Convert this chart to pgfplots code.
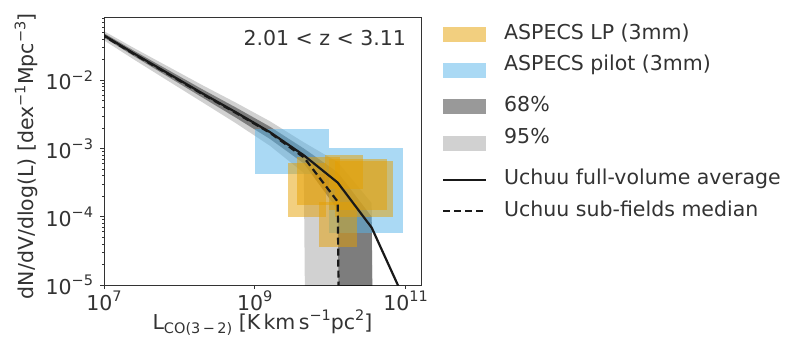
\documentclass[border=0pt]{standalone}
\usepackage{fontspec}
\setmainfont{DejaVu Sans}
\usepackage{pgfplots}
\pgfplotsset{compat=1.18}
\definecolor{orangec}{HTML}{E69F00}
\definecolor{bluec}{HTML}{56B4E9}
\definecolor{txt}{gray}{0.2}
\newcommand{\sups}[1]{\raisebox{0.42em}{\fontsize{14.5pt}{15pt}\selectfont #1}}
\newcommand{\subs}[1]{\raisebox{-0.22em}{\fontsize{14.5pt}{15pt}\selectfont #1}}
\begin{document}
\fontsize{20.5pt}{24pt}\selectfont
\begin{tikzpicture}
\begin{axis}[
  name=ax, scale only axis, width=317pt, height=268pt,
  xmode=log, ymode=log,
  xmin=1e7, xmax=1.6e11, ymin=1e-5, ymax=0.0843,
  axis line style={txt, line width=1pt},
  tick pos=left, tick align=outside,
  major tick length=4pt, minor tick length=2pt,
  every tick/.style={txt, line width=0.8pt},
  xtick={1e7,1e9,1e11}, xticklabels={10\sups{7},10\sups{9},10\sups{11}},
  xminorticks=false,
  ytick={1e-5,1e-4,1e-3,1e-2}, yticklabels={10\sups{−5},10\sups{−4},10\sups{−3},10\sups{−2}},
  minor ytick={2e-5,3e-5,4e-5,5e-5,6e-5,7e-5,8e-5,9e-5,2e-4,3e-4,4e-4,5e-4,6e-4,7e-4,8e-4,9e-4,2e-3,3e-3,4e-3,5e-3,6e-3,7e-3,8e-3,9e-3,2e-2,3e-2,4e-2,5e-2,6e-2,7e-2,8e-2},
  tick label style={txt, font=\fontsize{20.5pt}{24pt}\selectfont},
  xticklabel style={yshift=5pt},
  every axis x label/.style={at={(axis description cs:0.5,0)}, anchor=base, yshift=-44pt, txt},
  every axis y label/.style={at={(axis description cs:-0.221,0.48)}, anchor=base, rotate=90, txt},
  xlabel={L\subs{CO(3\,−\,2)} [K\,km\,s\sups{−1}pc\sups{2}]},
  ylabel={dN/dV/dlog(L) [dex\sups{−1}Mpc\sups{−3}]},
  legend style={at={(1,1)}, anchor=north west, xshift=21pt, yshift=-7pt, draw=none, fill=none, inner sep=0pt, outer sep=0pt, row sep=11.2pt, column sep=17pt, nodes={inner sep=0pt, text height=15pt, text depth=5pt, txt}, font=\fontsize{20.5pt}{24pt}\selectfont},
  legend cell align=left,
]
% 95% band
\addplot[fill=black, fill opacity=0.18, draw=none, forget plot] coordinates {
 (8.91e6,0.0562) (2.51e7,0.0295) (7.08e7,0.01585) (1.995e8,0.00851) (5.62e8,0.00468) (1.585e9,0.00251) (4.47e9,0.00123) (1.259e10,6.31e-4) (3.55e10,1.585e-4) (1e11,1e-60)
 (3.55e10,1e-60) (1.259e10,1e-60) (4.47e9,4.37e-4) (1.585e9,0.001096) (5.62e8,0.00234) (1.995e8,0.00479) (7.08e7,0.00977) (2.51e7,0.0200) (8.91e6,0.0417)};
% 68% band
\addplot[fill=black, fill opacity=0.4, draw=none, forget plot] coordinates {
 (8.91e6,0.0525) (2.51e7,0.0269) (7.08e7,0.01413) (1.995e8,0.00741) (5.62e8,0.00398) (1.585e9,0.00209) (4.47e9,0.00100) (1.259e10,4.47e-4) (3.55e10,1.0e-4) (1e11,1e-60)
 (3.55e10,1e-60) (1.259e10,1.26e-4) (4.47e9,6.03e-4) (1.585e9,0.00138) (5.62e8,0.00282) (1.995e8,0.00562) (7.08e7,0.01122) (2.51e7,0.0224) (8.91e6,0.0457)};
% ASPECS pilot
\addplot[fill=bluec, fill opacity=0.5, draw=none, forget plot] coordinates {(1e9,1.91e-3) (9.55e9,1.91e-3) (9.55e9,4.17e-4) (1e9,4.17e-4)};
\addplot[fill=bluec, fill opacity=0.5, draw=none, forget plot] coordinates {(9.55e9,1.0e-3) (9.33e10,1.0e-3) (9.33e10,5.75e-5) (9.55e9,5.75e-5)};
% ASPECS LP
\addplot[fill=orangec, fill opacity=0.5, draw=none, forget plot] coordinates {(2.75e9,6.17e-4) (8.91e9,6.17e-4) (8.91e9,9.77e-5) (2.75e9,9.77e-5)};
\addplot[fill=orangec, fill opacity=0.5, draw=none, forget plot] coordinates {(3.63e9,7.59e-4) (1.35e10,7.59e-4) (1.35e10,1.51e-4) (3.63e9,1.51e-4)};
\addplot[fill=orangec, fill opacity=0.5, draw=none, forget plot] coordinates {(8.51e9,8.13e-4) (2.69e10,8.13e-4) (2.69e10,2.51e-4) (8.51e9,2.51e-4)};
\addplot[fill=orangec, fill opacity=0.5, draw=none, forget plot] coordinates {(1.15e10,6.46e-4) (6.76e10,6.46e-4) (6.76e10,9.77e-5) (1.15e10,9.77e-5)};
\addplot[fill=orangec, fill opacity=0.5, draw=none, forget plot] coordinates {(7.08e9,1.62e-4) (2.24e10,1.62e-4) (2.24e10,3.63e-5) (7.08e9,3.63e-5)};
\addplot[fill=orangec, fill opacity=0.5, draw=none, forget plot] coordinates {(9.77e9,6.92e-4) (5.62e10,6.92e-4) (5.62e10,1.26e-4) (9.77e9,1.26e-4)};
% Uchuu full-volume average
\addplot[color=black!90, line width=2.2pt, forget plot] coordinates {
 (8.91e6,0.0490) (2.51e7,0.02455) (7.08e7,0.01259) (1.995e8,0.00646) (5.62e8,0.00339) (1.585e9,0.001738) (4.47e9,7.94e-4) (1.259e10,3.16e-4) (3.55e10,6.92e-5) (1e11,5.62e-6)};
% Uchuu sub-fields median
\addplot[color=black!90, line width=2.2pt, dash pattern=on 7pt off 4pt, forget plot] coordinates {
 (8.91e6,0.0479) (2.51e7,0.0240) (7.08e7,0.0123) (1.995e8,0.00631) (5.62e8,0.00331) (1.585e9,0.0017) (4.47e9,7.41e-4) (1.259e10,1.66e-4) (3.55e10,1e-60)};
\node[anchor=base east, txt, xshift=-8pt, yshift=-28pt] at (rel axis cs:1,1) {2.01 < z < 3.11};
% legend
\addlegendimage{legend image code/.code={\fill[orangec, fill opacity=0.5, draw=none] (0pt,-7.5pt) rectangle (43pt,7.5pt);}}
\addlegendentry{ASPECS LP (3mm)}
\addlegendimage{legend image code/.code={\fill[bluec, fill opacity=0.5, draw=none] (0pt,-7.5pt) rectangle (43pt,7.5pt);}}
\addlegendentry[text depth=15.5pt]{ASPECS pilot (3mm)}
\addlegendimage{legend image code/.code={\fill[black, fill opacity=0.4, draw=none] (0pt,-7.5pt) rectangle (43pt,7.5pt);}}
\addlegendentry{68\%}
\addlegendimage{legend image code/.code={\fill[black, fill opacity=0.18, draw=none] (0pt,-7.5pt) rectangle (43pt,7.5pt);}}
\addlegendentry[text depth=15.5pt]{95\%}
\addlegendimage{legend image code/.code={\draw[black!90, line width=2.2pt] (0pt,0pt) -- (43pt,0pt);}}
\addlegendentry{Uchuu full-volume average}
\addlegendimage{legend image code/.code={\draw[black!90, line width=2.2pt, dash pattern=on 7pt off 4pt] (0pt,0pt) -- (43pt,0pt);}}
\addlegendentry{Uchuu sub-fields median}
\end{axis}
\path ([shift={(-104pt,-64pt)}]ax.south west) rectangle ([shift={(371pt,17pt)}]ax.north east);
\end{tikzpicture}
\end{document}
